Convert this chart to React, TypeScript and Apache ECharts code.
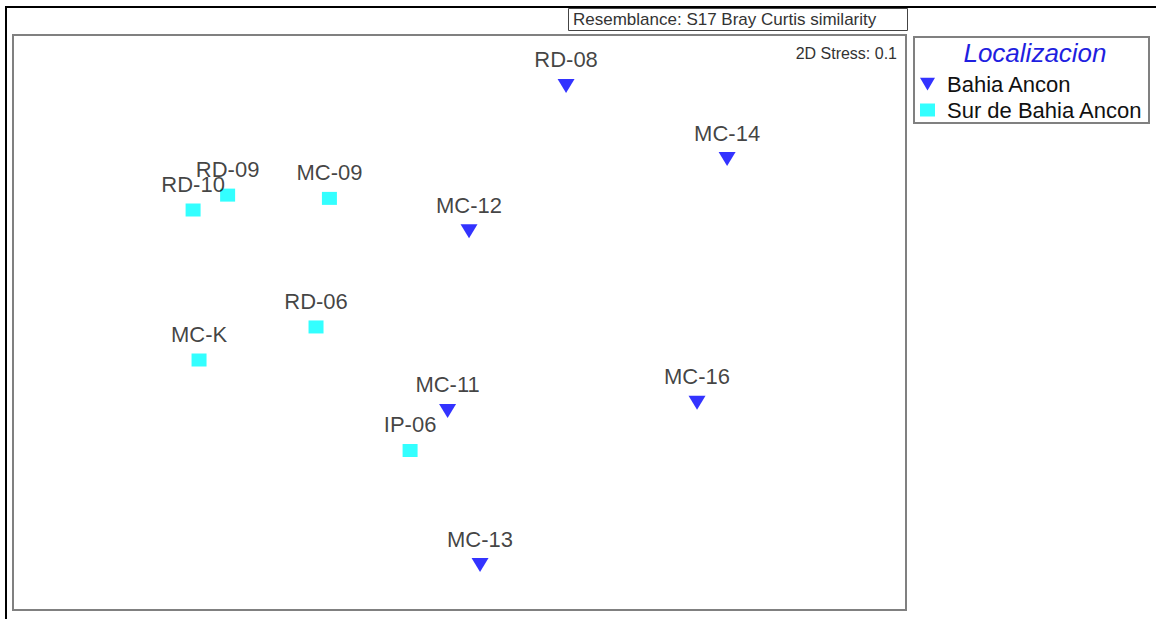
import React, { useEffect, useRef } from "react";
import * as echarts from "echarts";

const bahiaNames = ["RD-08", "MC-14", "MC-12", "MC-11", "MC-16", "MC-13"];
const bahiaX = [0.358, 0.899, 0.032, -0.04, 0.798, 0.069];
const bahiaY = [0.795, 0.549, 0.307, -0.297, -0.27, -0.815];

const surNames = ["RD-09", "RD-10", "MC-09", "RD-06", "MC-K", "IP-06"];
const surX = [-0.779, -0.895, -0.437, -0.482, -0.875, -0.166];
const surY = [0.428, 0.378, 0.417, -0.015, -0.126, -0.43];

const groups = ["Bahia Ancon", "Sur de Bahia Ancon"];
const titleText = "Resemblance: S17 Bray Curtis similarity";
const stressText = "2D Stress: 0.1";
const legendTitle = "Localizacion";

const FONT = "'Liberation Sans', Arial, sans-serif";
const TRI = "path://M0,0L20,0L10,17Z";

export default function App() {
  const ref = useRef<HTMLDivElement>(null);
  useEffect(() => {
    if (!ref.current) return;
    const chart = echarts.init(ref.current, undefined, { renderer: "svg" });
    const label = {
      show: true,
      position: "top" as const,
      distance: 8,
      formatter: "{b}",
      color: "#111111",
      fontSize: 22,
      fontFamily: FONT,
    };
    chart.setOption({
      animation: false,
      backgroundColor: "#ffffff",
      grid: {
        show: true,
        left: 13,
        top: 35,
        width: 893,
        height: 575,
        borderColor: "#808080",
        borderWidth: 2,
        backgroundColor: "#ffffff",
      },
      xAxis: { type: "value", min: -1.5, max: 1.5, show: false },
      yAxis: { type: "value", min: -0.966, max: 0.966, show: false },
      legend: {
        orient: "vertical",
        left: 920,
        top: 73,
        padding: 0,
        itemGap: 4,
        itemWidth: 15,
        itemHeight: 13,
        data: [
          { name: groups[0], icon: TRI },
          { name: groups[1], icon: "rect" },
        ],
        textStyle: {
          fontSize: 22,
          fontFamily: FONT,
          color: "#111111",
          padding: [0, 0, 0, 7],
        },
      },
      series: [
        {
          name: groups[0],
          type: "scatter",
          symbol: TRI,
          symbolSize: [17, 14],
          itemStyle: { color: "#0000ff" },
          label,
          data: bahiaNames.map((n, i) => ({ name: n, value: [bahiaX[i], bahiaY[i]] })),
        },
        {
          name: groups[1],
          type: "scatter",
          symbol: "rect",
          symbolSize: [15, 13],
          itemStyle: { color: "#00ffff" },
          label,
          data: surNames.map((n, i) => ({ name: n, value: [surX[i], surY[i]] })),
        },
      ],
      graphic: [
        {
          type: "line",
          shape: { x1: 5, y1: 7, x2: 1156, y2: 7 },
          style: { stroke: "#000", lineWidth: 2 },
        },
        {
          type: "line",
          shape: { x1: 6, y1: 6, x2: 6, y2: 619 },
          style: { stroke: "#000", lineWidth: 2 },
        },
        {
          type: "rect",
          shape: { x: 568.5, y: 8.5, width: 339, height: 22 },
          style: { fill: "#fff", stroke: "#444", lineWidth: 1 },
        },
        {
          type: "text",
          x: 573,
          y: 19.5,
          style: {
            text: titleText,
            fontSize: 17,
            fontFamily: FONT,
            fill: "#333",
            verticalAlign: "middle",
            align: "left",
          },
        },
        {
          type: "text",
          x: 897,
          y: 53,
          style: {
            text: stressText,
            fontSize: 16,
            fontFamily: FONT,
            fill: "#333",
            verticalAlign: "middle",
            align: "right",
          },
        },
        {
          type: "rect",
          shape: { x: 914, y: 37, width: 235, height: 86 },
          style: { fill: "none", stroke: "#808080", lineWidth: 2 },
        },
        {
          type: "text",
          x: 1035,
          y: 53,
          style: {
            text: legendTitle,
            fontSize: 26,
            fontStyle: "italic",
            fontFamily: FONT,
            fill: "#1f1fe0",
            verticalAlign: "middle",
            align: "center",
          },
        },
      ],
    });
    return () => chart.dispose();
  }, []);
  return (
    <div
      ref={ref}
      style={{ position: "fixed", left: 0, top: 0, width: 1156, height: 619 }}
    />
  );
}
